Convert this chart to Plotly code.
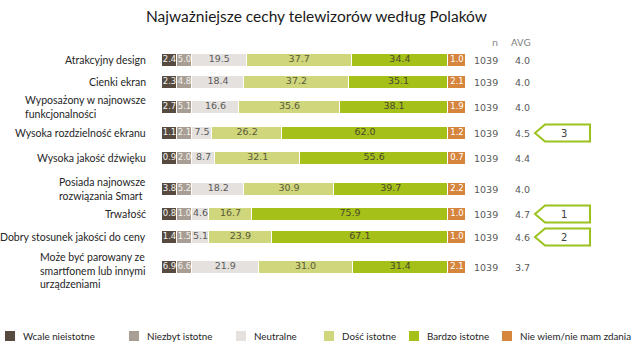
import plotly.graph_objects as go

# ---------------- data ----------------
labels = [
    "Atrakcyjny design",
    "Cienki ekran",
    "Wyposażony w najnowsze<br>funkcjonalności",
    "Wysoka rozdzielność ekranu",
    "Wysoka jakość dźwięku",
    "Posiada najnowsze<br>rozwiązania Smart",
    "Trwałość",
    "Dobry stosunek jakości do ceny",
    "Może być parowany ze<br>smartfonem lub innymi<br>urządzeniami",
]
series_names = ["Wcale nieistotne", "Niezbyt istotne", "Neutralne",
                "Dość istotne", "Bardzo istotne", "Nie wiem/nie mam zdania"]
wcale = [2.4, 2.3, 2.7, 1.1, 0.9, 3.8, 0.8, 1.4, 6.9]
niezbyt = [5.0, 4.8, 5.1, 2.1, 2.0, 5.2, 1.0, 1.5, 6.6]
neutralne = [19.5, 18.4, 16.6, 7.5, 8.7, 18.2, 4.6, 5.1, 21.9]
dosc = [37.7, 37.2, 35.6, 26.2, 32.1, 30.9, 16.7, 23.9, 31.0]
bardzo = [34.4, 35.1, 38.1, 62.0, 55.6, 39.7, 75.9, 67.1, 31.4]
nie_wiem = [1.0, 2.1, 1.9, 1.2, 0.7, 2.2, 1.0, 1.0, 2.1]
n_vals = [1039, 1039, 1039, 1039, 1039, 1039, 1039, 1039, 1039]
avg_vals = [4.0, 4.0, 4.0, 4.5, 4.4, 4.0, 4.7, 4.6, 3.7]
ranks = [None, None, None, 3, None, None, 1, 2, None]

# ---------------- layout / style ----------------
W, H = 635, 348
BAR_LEFT_PX, BAR_RIGHT_PX = 162, 466
PX_PER_UNIT = (BAR_RIGHT_PX - BAR_LEFT_PX) / 100.0
row_y = [60, 82, 107, 133, 158, 189, 214, 237, 267]  # row centres (pixel-like y units)
colors = ["#574b40", "#a89e93", "#e4e1de", "#cfd67b", "#a6c01a", "#d6853c"]
text_colors = ["#f2f2f2", "#f2f2f2", "#595959", "#5a5a3a", "#4a4a2a", "#ffffff"]
green_outline = "#9cc21e"
LABEL_FONT = "Lato"
NUM_FONT = "DejaVu Sans"


def px2x(px):
    return (px - BAR_LEFT_PX) / PX_PER_UNIT


# fixed-width cells for the small outer categories, proportional middle part
FIXED_PX = [15, 15, None, None, None, 18]
MIN_MID_PX = 17


def display_widths(vals):
    mid_idx = [i for i in range(6) if FIXED_PX[i] is None]
    total_mid = (BAR_RIGHT_PX - BAR_LEFT_PX) - sum(p for p in FIXED_PX if p)
    fixed_mid = {}
    while True:
        free = [i for i in mid_idx if i not in fixed_mid]
        rest = total_mid - sum(fixed_mid.values())
        k = rest / sum(vals[i] for i in free)
        newly = [i for i in free if vals[i] * k < MIN_MID_PX]
        if not newly:
            break
        for i in newly:
            fixed_mid[i] = MIN_MID_PX
    out = []
    for i in range(6):
        if FIXED_PX[i] is not None:
            px = FIXED_PX[i]
        elif i in fixed_mid:
            px = fixed_mid[i]
        else:
            px = vals[i] * k
        out.append(px / PX_PER_UNIT)
    return out


series = [wcale, niezbyt, neutralne, dosc, bardzo, nie_wiem]
rows_vals = [[s[r] for s in series] for r in range(len(labels))]
rows_w = [display_widths(v) for v in rows_vals]

fig = go.Figure()

# stacked bars
for j in range(6):
    fig.add_trace(go.Bar(
        orientation="h",
        y=row_y,
        x=[rows_w[r][j] for r in range(len(labels))],
        width=13,
        marker=dict(color=colors[j], line=dict(color="white", width=1.5)),
        name=series_names[j],
        customdata=[[labels[r].replace("<br>", " "), series[j][r]] for r in range(len(labels))],
        hovertemplate="%{customdata[0]}<br>" + series_names[j] + ": %{customdata[1]:.1f}%<extra></extra>",
        showlegend=False,
    ))

# value labels centred in segments
for j in range(6):
    xs = []
    for r in range(len(labels)):
        left = sum(rows_w[r][:j])
        xs.append(left + rows_w[r][j] / 2)
    fig.add_trace(go.Scatter(
        x=xs, y=row_y, mode="text",
        text=[f"{v:.1f}" for v in series[j]],
        textposition="middle center",
        textfont=dict(family=NUM_FONT, size=8.5 if j in (0, 1, 5) else 9.5, color=text_colors[j]),
        hoverinfo="skip", showlegend=False,
    ))

annotations = []
shapes = []

# title
annotations.append(dict(
    x=px2x(316), y=16, xref="x", yref="y", text="Najważniejsze cechy telewizorów według Polaków",
    showarrow=False, xanchor="center", yanchor="middle",
    font=dict(family=LABEL_FONT, size=15.5, color="#1a1a1a"),
))

# category labels
for r, lab in enumerate(labels):
    nlines = lab.count("<br>") + 1
    annotations.append(dict(
        x=px2x(148), y=row_y[r] + (3 if nlines == 3 else 0), xref="x", yref="y", text=lab,
        showarrow=False, xanchor="right", yanchor="middle", align="left",
        font=dict(family=LABEL_FONT, size=10.5, color="#262626"),
    ))

# headers
annotations.append(dict(x=px2x(500), y=42, xref="x", yref="y", text="n", showarrow=False,
                        xanchor="right", yanchor="middle",
                        font=dict(family=NUM_FONT, size=9.5, color="#7f7f7f")))
annotations.append(dict(x=px2x(533), y=42, xref="x", yref="y", text="AVG", showarrow=False,
                        xanchor="right", yanchor="middle",
                        font=dict(family=NUM_FONT, size=9.5, color="#7f7f7f")))

for r in range(len(labels)):
    annotations.append(dict(x=px2x(500), y=row_y[r], xref="x", yref="y", text=str(n_vals[r]),
                            showarrow=False, xanchor="right", yanchor="middle",
                            font=dict(family=NUM_FONT, size=9.5, color="#595959")))
    annotations.append(dict(x=px2x(532), y=row_y[r], xref="x", yref="y", text=f"{avg_vals[r]:.1f}",
                            showarrow=False, xanchor="right", yanchor="middle",
                            font=dict(family=NUM_FONT, size=9.5, color="#595959")))
    if ranks[r] is not None:
        c = row_y[r]
        x0, x1, xn = px2x(535), px2x(590), px2x(545)
        path = (f"M {x0},{c} L {xn},{c - 8.5} L {x1},{c - 8.5} L {x1},{c + 8.5} "
                f"L {xn},{c + 8.5} Z")
        shapes.append(dict(type="path", path=path, xref="x", yref="y",
                           line=dict(color=green_outline, width=2), fillcolor="white"))
        annotations.append(dict(x=px2x(564), y=c, xref="x", yref="y", text=str(ranks[r]),
                                showarrow=False, xanchor="center", yanchor="middle",
                                font=dict(family=NUM_FONT, size=10, color="#404040")))

# manual legend
legend_sq_px = [5, 129, 236, 324, 409, 502]
for j in range(6):
    sx = legend_sq_px[j]
    shapes.append(dict(type="rect", xref="x", yref="y",
                       x0=px2x(sx), x1=px2x(sx + 10), y0=331, y1=341,
                       fillcolor=colors[j], line=dict(width=0)))
    annotations.append(dict(x=px2x(sx + 16), y=336, xref="x", yref="y", text=series_names[j],
                            showarrow=False, xanchor="left", yanchor="middle",
                            font=dict(family=LABEL_FONT, size=9.8, color="#262626")))

fig.update_layout(
    width=W, height=H,
    margin=dict(l=0, r=0, t=0, b=0),
    barmode="stack",
    bargap=0,
    paper_bgcolor="white", plot_bgcolor="white",
    xaxis=dict(range=[px2x(0), px2x(W)], visible=False, fixedrange=True),
    yaxis=dict(range=[H, 0], visible=False, fixedrange=True),
    annotations=annotations,
    shapes=shapes,
    showlegend=False,
)

fig.write_html("out.html")
